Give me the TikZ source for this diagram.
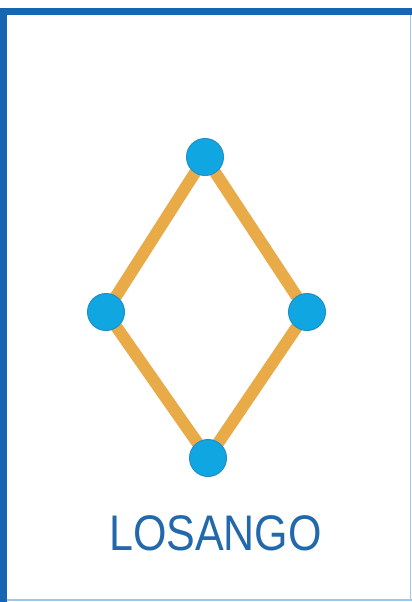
\documentclass[tikz,border=0pt]{standalone}
\usepackage{fontspec}
\newfontfamily\labelfont{Liberation Sans}
\usetikzlibrary{backgrounds}
\definecolor{framblue}{HTML}{1666B2}
\definecolor{edgeblue}{HTML}{9CC8EC}
\definecolor{stickorange}{HTML}{E8AB47}
\definecolor{ballblue}{HTML}{10A6E2}
\definecolor{ballrim}{HTML}{2190C6}
\definecolor{textblue}{HTML}{2268AC}
\begin{document}
\begin{tikzpicture}[x=1pt, y=-1pt,
  ball/.style={circle, draw=ballrim, line width=1pt, fill=ballblue, minimum size=37pt, inner sep=0pt},
  stick/.style={stickorange, line width=12pt}]
\useasboundingbox (0,0) rectangle (412,602);
% corners of the rhombus
\node[ball] (top) at (205,157) {};
\node[ball] (left) at (106,312) {};
\node[ball] (right) at (307,312) {};
\node[ball] (bottom) at (208,458) {};
\begin{scope}[on background layer]
% frame
\fill[white] (0,0) rectangle (412,602);
\fill[framblue] (0,8) rectangle (412,15);
\fill[framblue] (0,8) rectangle (7,602);
\draw[edgeblue, line width=2pt] (7,600) -- (412,600);
\draw[edgeblue, line width=1pt] (410,15) -- (410,600);
% sides
\draw[stick] (top.center) -- (right.center);
\draw[stick] (right.center) -- (bottom.center);
\draw[stick] (bottom.center) -- (left.center);
\draw[stick] (left.center) -- (top.center);
\end{scope}
\node[text=textblue, inner sep=0pt] (title) at (215.5,533)
  {\scalebox{0.86}[1]{\labelfont\fontsize{50}{50}\selectfont LOSANGO}};
\end{tikzpicture}
\end{document}
